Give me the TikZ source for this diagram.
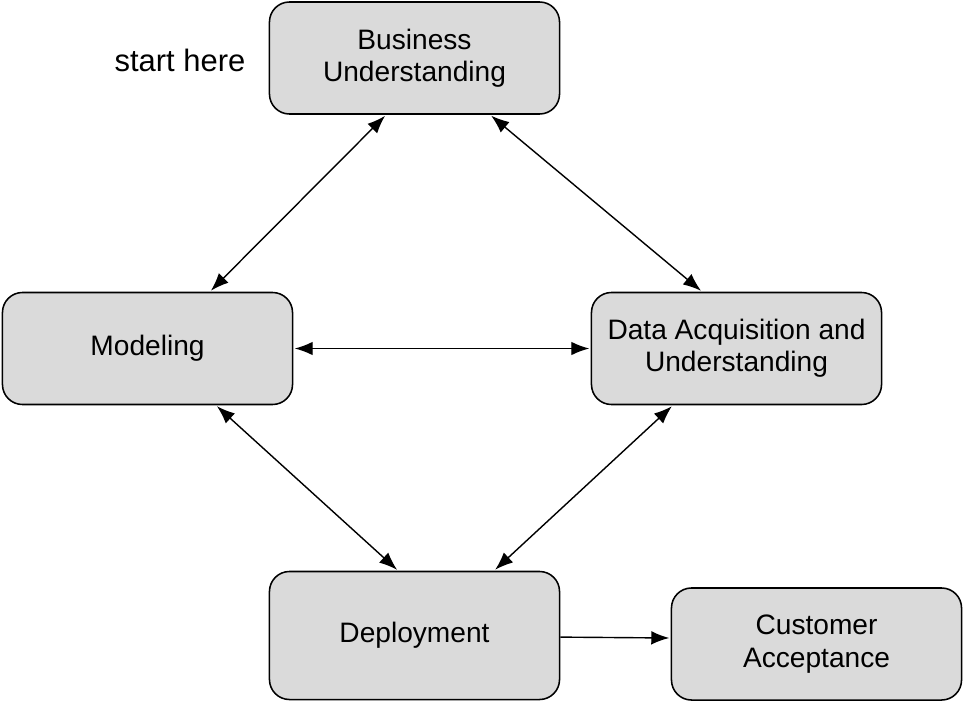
\documentclass[tikz,border=0pt]{standalone}
\usepackage{fontspec}
\setmainfont{Liberation Sans}
\usepackage{xcolor}
\usetikzlibrary{arrows.meta,calc}
\definecolor{boxgray}{RGB}{218,218,218}
\tikzset{stage/.style={draw,fill=boxgray,rounded corners=5mm,line width=1.1pt,minimum width=7.25cm,minimum height=2.8cm,align=center,font=\fontsize{20}{23}\selectfont}}
\tikzset{link/.style={{Latex[length=4.5mm,width=3.4mm]}-{Latex[length=4.5mm,width=3.4mm]},line width=1pt,shorten <=1pt,shorten >=1pt}}

\begin{document}
\begin{tikzpicture}[x=0.025cm,y=-0.025cm]
  \useasboundingbox (0,0) rectangle (964,702);
  \node[stage] (bu) at (414.5,58) {Business\\Understanding};
  \node[stage] (mod) at (147.5,348.5) {Modeling};
  \node[stage] (da) at (736.5,348.5) {Data Acquisition and\\Understanding};
  \node[stage,minimum height=3.2cm] (dep) at (414.5,635.5) {Deployment};
  \node[stage] (ca) at (816.5,644) {Customer\\Acceptance};
  \node[font=\fontsize{22}{26}\selectfont] (start) at (180,60) {start here};

  \draw[link] ([xshift=-0.71cm]bu.south) -- ([xshift=1.56cm]mod.north);
  \draw[link] ([xshift=1.89cm]bu.south) -- ([xshift=-0.86cm]da.north);
  \draw[link] (mod.east) -- (da.west);
  \draw[link] ([xshift=1.71cm]mod.south) -- ([xshift=-0.41cm]dep.north);
  \draw[link] ([xshift=-1.59cm]da.south) -- ([xshift=1.99cm]dep.north);
  \draw[-{Latex[length=4.5mm,width=3.4mm]},line width=1pt,shorten >=1pt] ([yshift=-0.04cm]dep.east) -- ([yshift=0.15cm]ca.west);
\end{tikzpicture}
\end{document}
